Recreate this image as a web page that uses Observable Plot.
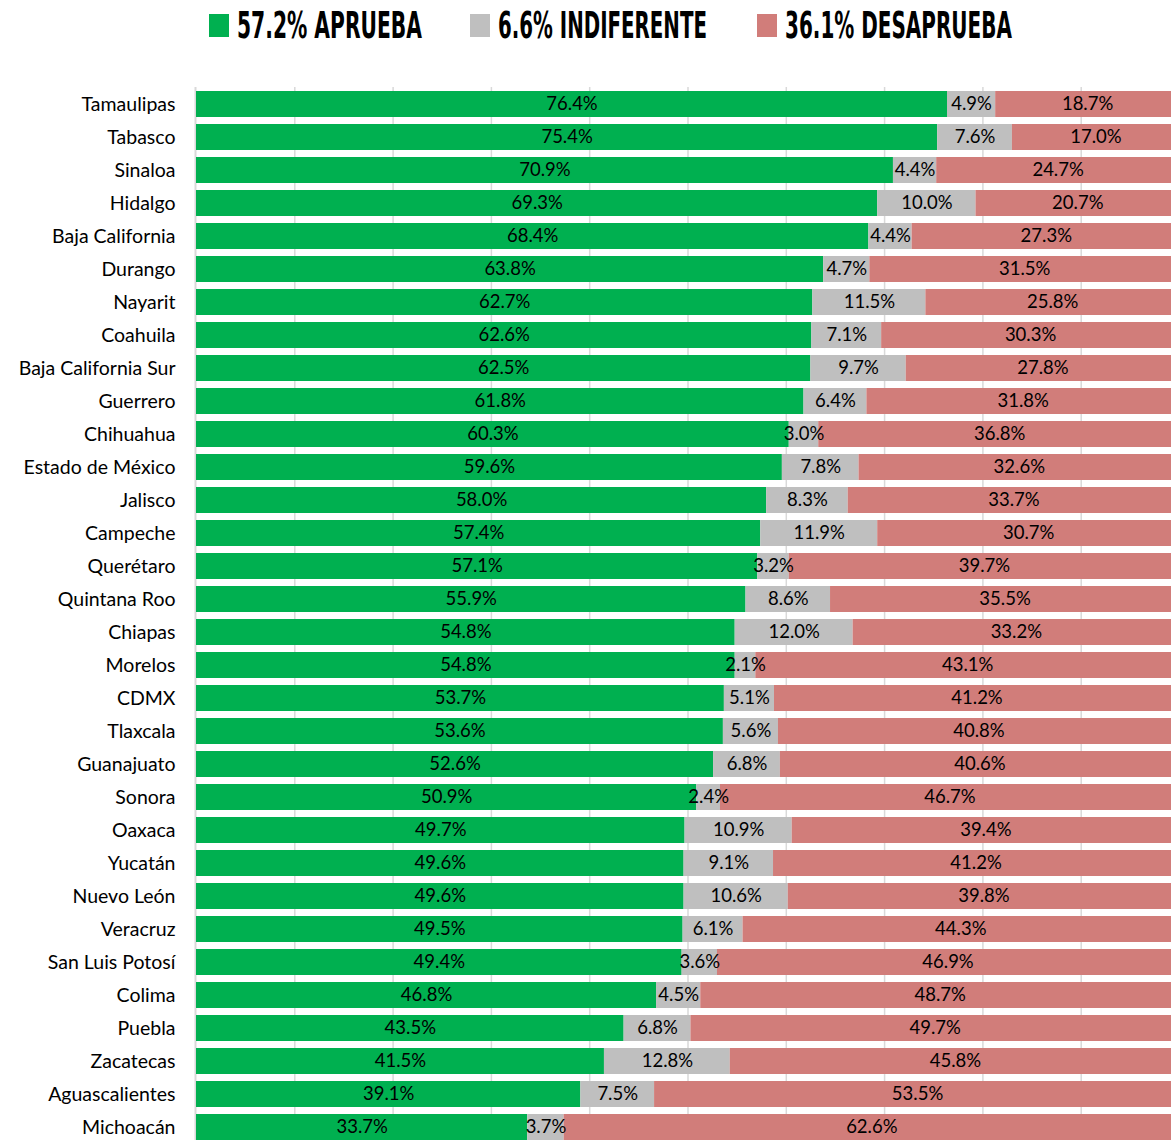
<!DOCTYPE html>
<html><head><meta charset="utf-8">
<script src="https://cdn.jsdelivr.net/npm/d3@7"></script>
<script src="https://cdn.jsdelivr.net/npm/@observablehq/plot@0.6"></script>
<style>
html,body{margin:0;padding:0;background:#fff;overflow:hidden;width:1171px;height:1140px;}
#legend{height:60px;position:relative}
#chart svg{display:block}
</style></head><body>
<div id="legend"></div>
<div id="chart"></div>
<script>
const states = ["Tamaulipas","Tabasco","Sinaloa","Hidalgo","Baja California","Durango","Nayarit","Coahuila","Baja California Sur","Guerrero","Chihuahua","Estado de México","Jalisco","Campeche","Querétaro","Quintana Roo","Chiapas","Morelos","CDMX","Tlaxcala","Guanajuato","Sonora","Oaxaca","Yucatán","Nuevo León","Veracruz","San Luis Potosí","Colima","Puebla","Zacatecas","Aguascalientes","Michoacán"];
const aprueba = [76.4,75.4,70.9,69.3,68.4,63.8,62.7,62.6,62.5,61.8,60.3,59.6,58.0,57.4,57.1,55.9,54.8,54.8,53.7,53.6,52.6,50.9,49.7,49.6,49.6,49.5,49.4,46.8,43.5,41.5,39.1,33.7];
const indiferente = [4.9,7.6,4.4,10.0,4.4,4.7,11.5,7.1,9.7,6.4,3.0,7.8,8.3,11.9,3.2,8.6,12.0,2.1,5.1,5.6,6.8,2.4,10.9,9.1,10.6,6.1,3.6,4.5,6.8,12.8,7.5,3.7];
const desaprueba = [18.7,17.0,24.7,20.7,27.3,31.5,25.8,30.3,27.8,31.8,36.8,32.6,33.7,30.7,39.7,35.5,33.2,43.1,41.2,40.8,40.6,46.7,39.4,41.2,39.8,44.3,46.9,48.7,49.7,45.8,53.5,62.6];
const seriesNames = ["Aprueba","Indiferente","Desaprueba"];
const seriesColors = ["#00b050","#bfbfbf","#d17d7a"];
const legendLabels = ["57.2% APRUEBA","6.6% INDIFERENTE","36.1% DESAPRUEBA"];
const xTicks = [10,20,30,40,50,60,70,80,90];

const seriesValues = [aprueba, indiferente, desaprueba];
const rows = states.flatMap((s, i) => seriesNames.map((name, k) => ({state: s, serie: name, value: seriesValues[k][i]})));

// Legend (SVG text above the chart)
const legX = [209, 470, 757];
const legW = [185, 209, 227];
const ns = "http://www.w3.org/2000/svg";
const lsvg = document.createElementNS(ns, "svg");
lsvg.setAttribute("width", 1171); lsvg.setAttribute("height", 60);
document.getElementById("legend").appendChild(lsvg);
legendLabels.forEach((lab, i) => {
  const r = document.createElementNS(ns, "rect");
  r.setAttribute("x", legX[i]); r.setAttribute("y", 14);
  r.setAttribute("width", 20); r.setAttribute("height", 23);
  r.setAttribute("fill", seriesColors[i]);
  lsvg.appendChild(r);
  const g = document.createElementNS(ns, "g");
  lsvg.appendChild(g);
  const t = document.createElementNS(ns, "text");
  t.setAttribute("font-family", "DejaVu Sans Condensed, DejaVu Sans");
  t.setAttribute("font-weight", "bold");
  t.setAttribute("font-size", 37);
  t.setAttribute("fill", "#000");
  t.textContent = lab;
  g.appendChild(t);
  const L = t.getComputedTextLength() || legW[i];
  g.setAttribute("transform", `translate(${legX[i] + 28},37.5) scale(${legW[i] / L},1)`);
});

const stepY = 33.06, pad = 0.2;
const n = states.length;
const innerH = stepY * (n - pad + 2 * pad);
const marginTop = 30 - pad * stepY;
const height = Math.ceil(marginTop + innerH);
const gridInset = 27 - marginTop;

const chart = Plot.plot({
  width: 1171, height, marginTop, marginBottom: 0, marginLeft: 196, marginRight: 0,
  x: {domain: [0, 100], range: [196, 1179], axis: null},
  y: {domain: states, padding: pad, label: null},
  color: {domain: seriesNames, range: seriesColors},
  style: {fontFamily: "Lato", fontSize: "18px", background: "white", color: "black"},
  marks: [
    Plot.ruleX(xTicks, {stroke: "#d9d9d9", strokeWidth: 1.5, insetTop: gridInset}),
    Plot.ruleX([0], {stroke: "#d9d9d9", strokeWidth: 2, dx: -1, insetTop: gridInset}),
    Plot.barX(rows, {y: "state", x: "value", fill: "serie", z: "serie"}),
    Plot.text(rows, Plot.stackX({y: "state", x: "value", z: "serie", text: d => d.value.toFixed(1) + "%", fill: "black", fontSize: 18.5})),
    Plot.axisY({tickSize: 0, tickPadding: 21, fontSize: 19.5, fill: "black", label: null})
  ]
});
document.getElementById("chart").appendChild(chart);
</script>
</body></html>
